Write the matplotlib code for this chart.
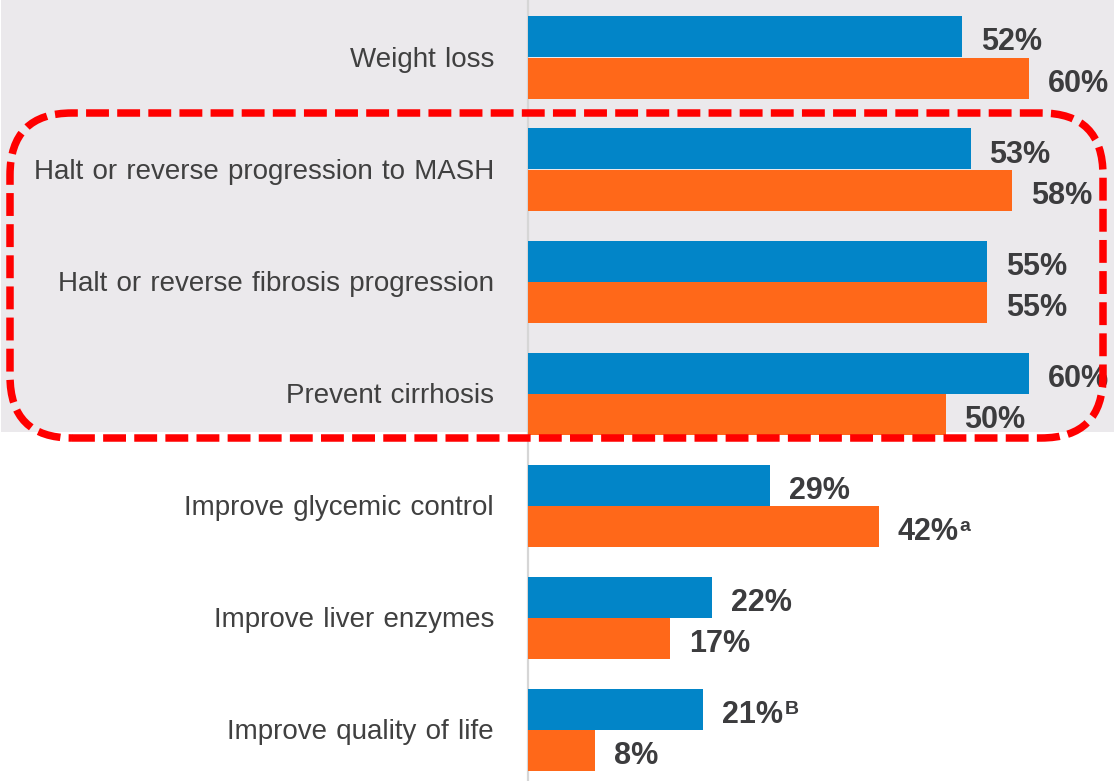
import matplotlib
matplotlib.use("Agg")
import matplotlib.pyplot as plt
from matplotlib.patches import Rectangle, FancyBboxPatch
from matplotlib import font_manager

categories = ["Weight loss", "Halt or reverse progression to MASH",
              "Halt or reverse fibrosis progression", "Prevent cirrhosis",
              "Improve glycemic control", "Improve liver enzymes",
              "Improve quality of life"]
blue_vals = [52, 53, 55, 60, 29, 22, 21]
orange_vals = [60, 58, 55, 50, 42, 17, 8]
blue_sup = ["", "", "", "", "", "", "B"]
orange_sup = ["", "", "", "", "a", "", ""]

BLUE = "#0285C8"
ORANGE = "#FF6819"
TXT = "#404040"
VAL = "#3C3C3E"

plt.rcParams['font.family'] = ['Liberation Sans', 'DejaVu Sans']

names = {f.name for f in font_manager.fontManager.ttflist}
if "Liberation Sans Narrow" in names:
    val_family = ["Liberation Sans Narrow", "Liberation Sans"]
    val_size = 25
else:
    val_family = ["Liberation Sans", "DejaVu Sans"]
    val_size = 22

W, H = 1114, 781
fig = plt.figure(figsize=(W / 100, H / 100), dpi=100)
fig.patch.set_facecolor("white")

# grey background for top rows
fig.patches.append(Rectangle((1 / W, 1 - 432 / H), 1, 432 / H, transform=fig.transFigure,
                             facecolor="#EBE9EC", edgecolor="none", zorder=-5))

ax = fig.add_axes([528 / W, 0, (W - 528) / W, 1])
ax.patch.set_visible(False)
pxu = 8.35
ax.set_xlim(0, (W - 528) / pxu)
step = 112.08
ax.set_ylim(6 + (H - 730) / step, -57.5 / step)
for s in ax.spines.values():
    s.set_visible(False)
ax.set_xticks([])
ax.set_yticks([])
ax.axvline(0, color="#D6D6D6", lw=1.6, zorder=1, clip_on=False)

bh = 0.366
off = 0.184
yb = [i - off for i in range(len(categories))]
yo = [i + off for i in range(len(categories))]
ax.barh(yb, blue_vals, height=bh, color=BLUE, zorder=2)
ax.barh(yo, orange_vals, height=bh, color=ORANGE, zorder=2)

for i, c in enumerate(categories):
    ax.text(-34 / pxu, i + 0.02, c.replace(" ", "\u2004"), ha="right", va="center",
            fontsize=20, color=TXT, clip_on=False)

main_texts = []
for ys, vals, sups in ((yb, blue_vals, blue_sup), (yo, orange_vals, orange_sup)):
    for y, v, s in zip(ys, vals, sups):
        t = ax.text(v + 19 / pxu, y + 0.05, f"{v}%", ha="left", va="center",
                    fontsize=val_size, fontweight="bold", family=val_family,
                    color=VAL, clip_on=False, zorder=3)
        main_texts.append((t, s))

fig.canvas.draw()
r = fig.canvas.get_renderer()
inv = ax.transData.inverted()
for t, s in main_texts:
    if not s:
        continue
    bb = t.get_window_extent(r)
    xs, ys_ = inv.transform((bb.x1 + 1, bb.y1 - 1))
    ax.text(xs, ys_, s, ha="left", va="top", fontsize=14, fontweight="bold",
            color=VAL, clip_on=False, zorder=3)

# red dashed rounded box (in inches)
x0, x1b = 10 / 100, 1103 / 100
ytop, ybot = (H - 113) / 100, (H - 438) / 100
box = FancyBboxPatch((x0, ybot), x1b - x0, ytop - ybot,
                     boxstyle="round,pad=0,rounding_size=0.62",
                     transform=fig.dpi_scale_trans, facecolor="none",
                     edgecolor="#FF0000", lw=5.4, linestyle=(0, (3.05, 1.1)),
                     capstyle="butt", zorder=10)
fig.patches.append(box)

fig.savefig("out.png", dpi=100)
